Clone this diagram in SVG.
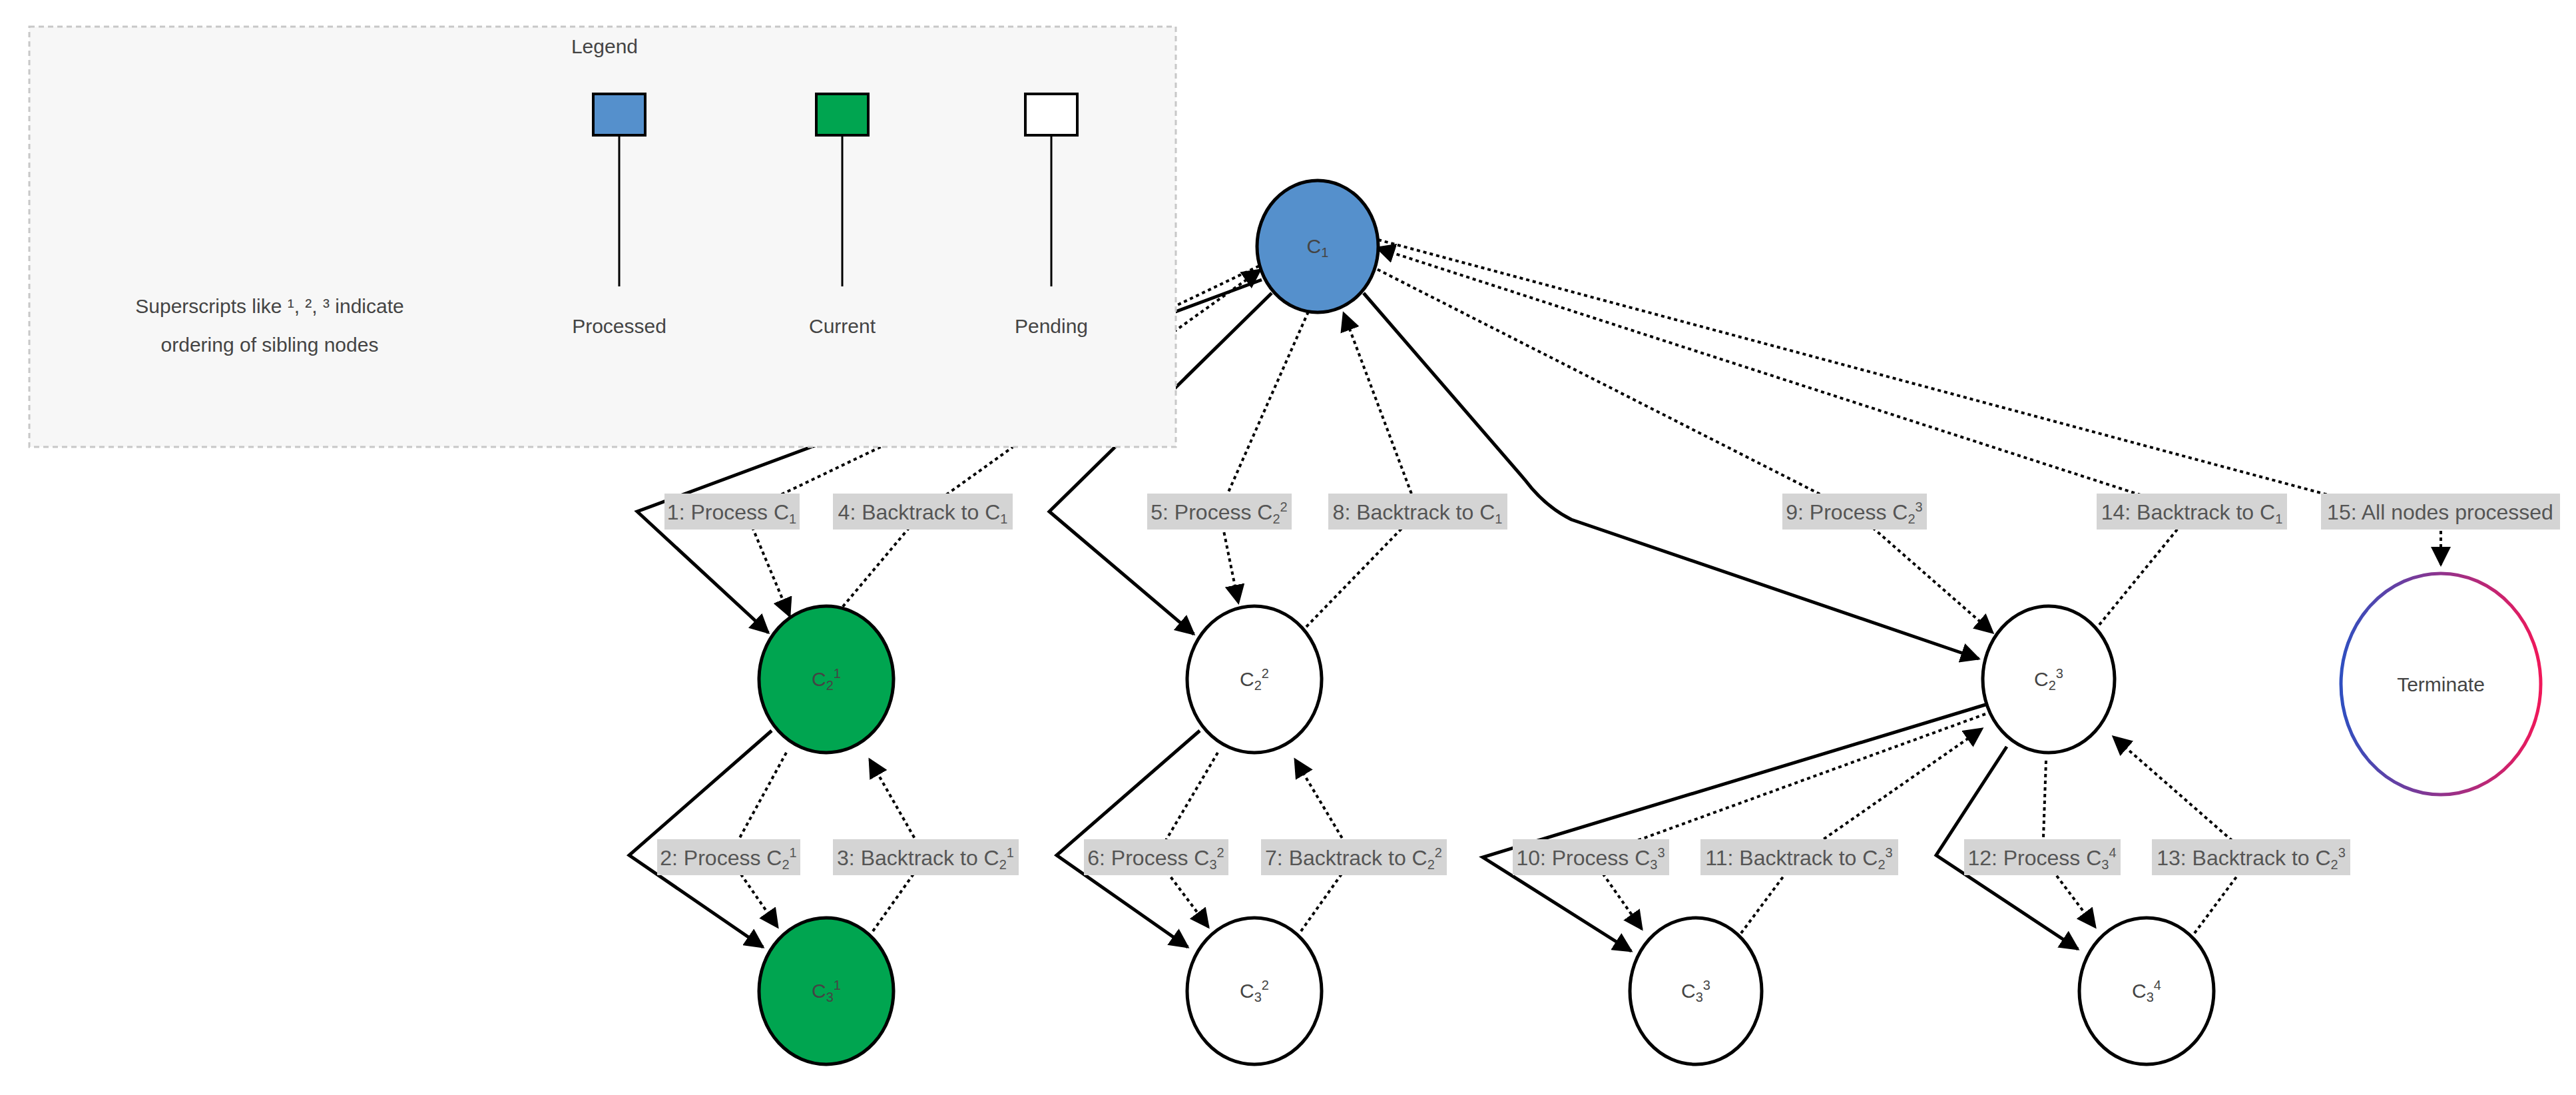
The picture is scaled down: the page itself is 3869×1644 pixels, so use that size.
<svg xmlns="http://www.w3.org/2000/svg" width="3869" height="1644" viewBox="0 0 3869 1644">
<style>
text{font-family:"Liberation Sans",Arial,sans-serif}
.lbl{font-size:32px;fill:#555;text-anchor:middle}
.lb{fill:#d4d4d4}
.nt{font-size:30px;fill:#444;text-anchor:middle}
.sm{font-size:20px}
.solid{fill:none;stroke:#000;stroke-width:5;marker-end:url(#ah)}
.dot{fill:none;stroke:#000;stroke-width:4;stroke-dasharray:5 5;marker-end:url(#ah)}
.node{stroke:#000;stroke-width:5}
.lg{font-size:30px;fill:#444;text-anchor:middle}
</style>
<defs>
<marker id="ah" viewBox="0 0 10 10" refX="9" refY="5" markerWidth="30" markerHeight="30" markerUnits="userSpaceOnUse" orient="auto"><path d="M0,0L10,5L0,10z" fill="#000"/></marker>
<linearGradient id="tg" x1="0" y1="0" x2="1" y2="0"><stop offset="0" stop-color="#2f4fc0"/><stop offset="1" stop-color="#f0185a"/></linearGradient>
</defs>
<g id="connectors">
<path class="solid" d="M1895,420 L957,768 L1154,950"/>
<path class="solid" d="M1910,440 L1576,768 L1793,952"/>
<path class="solid" d="M2048,440 L2290,720 Q2320,760 2360,780 L2972,989"/>
<path class="solid" d="M1159,1097 L945,1284 L1146,1422"/>
<path class="solid" d="M1802,1097 L1587,1284 L1784,1422"/>
<path class="solid" d="M2982,1058 L2227,1287 L2450,1428"/>
<path class="solid" d="M3014,1121 L2908,1284 L3121,1425"/>
<path class="dot" d="M1900,395 L1120,768 L1186,925"/>
<path class="dot" d="M1253,926 L1386,768 L1893,405"/>
<path class="dot" d="M1965,468 L1832,768 L1860,905"/>
<path class="dot" d="M1962,941 L2130,768 L2018,470"/>
<path class="dot" d="M2060,400 L2785,768 L2993,950"/>
<path class="dot" d="M3153,938 L3292,768 L2068,372"/>
<path class="dot" d="M2070,360 L3560,760 L3666,790 L3666,848"/>
<path class="dot" d="M1181,1130 L1095,1287 L1168,1392"/>
<path class="dot" d="M1311,1398 L1390,1287 L1306,1140"/>
<path class="dot" d="M1829,1130 L1736,1287 L1815,1392"/>
<path class="dot" d="M1954,1398 L2033,1287 L1945,1140"/>
<path class="dot" d="M2982,1072 L2390,1287 L2466,1395"/>
<path class="dot" d="M2615,1401 L2700,1287 L2977,1094"/>
<path class="dot" d="M3073,1142 L3068,1287 L3147,1392"/>
<path class="dot" d="M3296,1401 L3381,1287 L3174,1106"/>
</g>
<g id="labels">
<rect class="lb" x="998" y="741" width="203" height="54"/><text class="lbl" x="1099" y="780">1: Process C<tspan class="sm" dy="6">1</tspan></text>
<rect class="lb" x="1251" y="741" width="270" height="54"/><text class="lbl" x="1386" y="780">4: Backtrack to C<tspan class="sm" dy="6">1</tspan></text>
<rect class="lb" x="1723" y="741" width="217" height="54"/><text class="lbl" x="1831" y="780">5: Process C<tspan class="sm" dy="6">2</tspan><tspan class="sm" dy="-18">2</tspan></text>
<rect class="lb" x="1995" y="741" width="269" height="54"/><text class="lbl" x="2129" y="780">8: Backtrack to C<tspan class="sm" dy="6">1</tspan></text>
<rect class="lb" x="2677" y="741" width="217" height="54"/><text class="lbl" x="2785" y="780">9: Process C<tspan class="sm" dy="6">2</tspan><tspan class="sm" dy="-18">3</tspan></text>
<rect class="lb" x="3149" y="741" width="286" height="54"/><text class="lbl" x="3292" y="780">14: Backtrack to C<tspan class="sm" dy="6">1</tspan></text>
<rect class="lb" x="3486" y="741" width="359" height="54"/><text class="lbl" x="3665" y="780">15: All nodes processed</text>
<rect class="lb" x="987" y="1260" width="215" height="54"/><text class="lbl" x="1094" y="1299">2: Process C<tspan class="sm" dy="6">2</tspan><tspan class="sm" dy="-18">1</tspan></text>
<rect class="lb" x="1251" y="1260" width="279" height="54"/><text class="lbl" x="1390" y="1299">3: Backtrack to C<tspan class="sm" dy="6">2</tspan><tspan class="sm" dy="-18">1</tspan></text>
<rect class="lb" x="1628" y="1260" width="217" height="54"/><text class="lbl" x="1736" y="1299">6: Process C<tspan class="sm" dy="6">3</tspan><tspan class="sm" dy="-18">2</tspan></text>
<rect class="lb" x="1894" y="1260" width="279" height="54"/><text class="lbl" x="2033" y="1299">7: Backtrack to C<tspan class="sm" dy="6">2</tspan><tspan class="sm" dy="-18">2</tspan></text>
<rect class="lb" x="2272" y="1260" width="235" height="54"/><text class="lbl" x="2389" y="1299">10: Process C<tspan class="sm" dy="6">3</tspan><tspan class="sm" dy="-18">3</tspan></text>
<rect class="lb" x="2554" y="1260" width="297" height="54"/><text class="lbl" x="2702" y="1299">11: Backtrack to C<tspan class="sm" dy="6">2</tspan><tspan class="sm" dy="-18">3</tspan></text>
<rect class="lb" x="2950" y="1260" width="235" height="54"/><text class="lbl" x="3067" y="1299">12: Process C<tspan class="sm" dy="6">3</tspan><tspan class="sm" dy="-18">4</tspan></text>
<rect class="lb" x="3232" y="1260" width="298" height="54"/><text class="lbl" x="3381" y="1299">13: Backtrack to C<tspan class="sm" dy="6">2</tspan><tspan class="sm" dy="-18">3</tspan></text>
</g>
<g id="C1"><ellipse class="node" cx="1979" cy="370" rx="91" ry="99" fill="#5590cc"/><text class="nt" x="1979" y="380">C<tspan class="sm" dy="6">1</tspan></text></g>
<g id="C2_1"><ellipse class="node" cx="1241" cy="1020" rx="101" ry="110" fill="#00a550"/><text class="nt" x="1241" y="1030">C<tspan class="sm" dy="6">2</tspan><tspan class="sm" dy="-18">1</tspan></text></g>
<g id="C3_1"><ellipse class="node" cx="1241" cy="1488" rx="101" ry="110" fill="#00a550"/><text class="nt" x="1241" y="1498">C<tspan class="sm" dy="6">3</tspan><tspan class="sm" dy="-18">1</tspan></text></g>
<g id="C2_2"><ellipse class="node" cx="1884" cy="1020" rx="101" ry="110" fill="#fff"/><text class="nt" x="1884" y="1030">C<tspan class="sm" dy="6">2</tspan><tspan class="sm" dy="-18">2</tspan></text></g>
<g id="C3_2"><ellipse class="node" cx="1884" cy="1488" rx="101" ry="110" fill="#fff"/><text class="nt" x="1884" y="1498">C<tspan class="sm" dy="6">3</tspan><tspan class="sm" dy="-18">2</tspan></text></g>
<g id="C2_3"><ellipse class="node" cx="3077" cy="1020" rx="99" ry="110" fill="#fff"/><text class="nt" x="3077" y="1030">C<tspan class="sm" dy="6">2</tspan><tspan class="sm" dy="-18">3</tspan></text></g>
<g id="C3_3"><ellipse class="node" cx="2547" cy="1488" rx="99" ry="110" fill="#fff"/><text class="nt" x="2547" y="1498">C<tspan class="sm" dy="6">3</tspan><tspan class="sm" dy="-18">3</tspan></text></g>
<g id="C3_4"><ellipse class="node" cx="3224" cy="1488" rx="101" ry="110" fill="#fff"/><text class="nt" x="3224" y="1498">C<tspan class="sm" dy="6">3</tspan><tspan class="sm" dy="-18">4</tspan></text></g>
<g id="Terminate"><ellipse cx="3666" cy="1027" rx="150" ry="166" fill="#fff" stroke="url(#tg)" stroke-width="5"/><text class="nt" x="3666" y="1038" font-size="32">Terminate</text></g>
<g id="legend">
<rect x="44" y="40" width="1722" height="631" fill="#f7f7f7" stroke="#c8c8c8" stroke-width="3" stroke-dasharray="8 6"/>
<text class="lg" x="908" y="80">Legend</text>
<line x1="930" y1="202" x2="930" y2="430" stroke="#000" stroke-width="3"/>
<line x1="1265" y1="202" x2="1265" y2="430" stroke="#000" stroke-width="3"/>
<line x1="1579" y1="202" x2="1579" y2="430" stroke="#000" stroke-width="3"/>
<rect x="891" y="141" width="78" height="62" fill="#5590cc" stroke="#000" stroke-width="4"/>
<rect x="1226" y="141" width="78" height="62" fill="#00a550" stroke="#000" stroke-width="4"/>
<rect x="1540" y="141" width="78" height="62" fill="#fff" stroke="#000" stroke-width="4"/>
<text class="lg" x="930" y="500">Processed</text>
<text class="lg" x="1265" y="500">Current</text>
<text class="lg" x="1579" y="500">Pending</text>
<text class="lg" x="405" y="470">Superscripts like ¹, ², ³ indicate</text>
<text class="lg" x="405" y="528">ordering of sibling nodes</text>
</g>
</svg>
